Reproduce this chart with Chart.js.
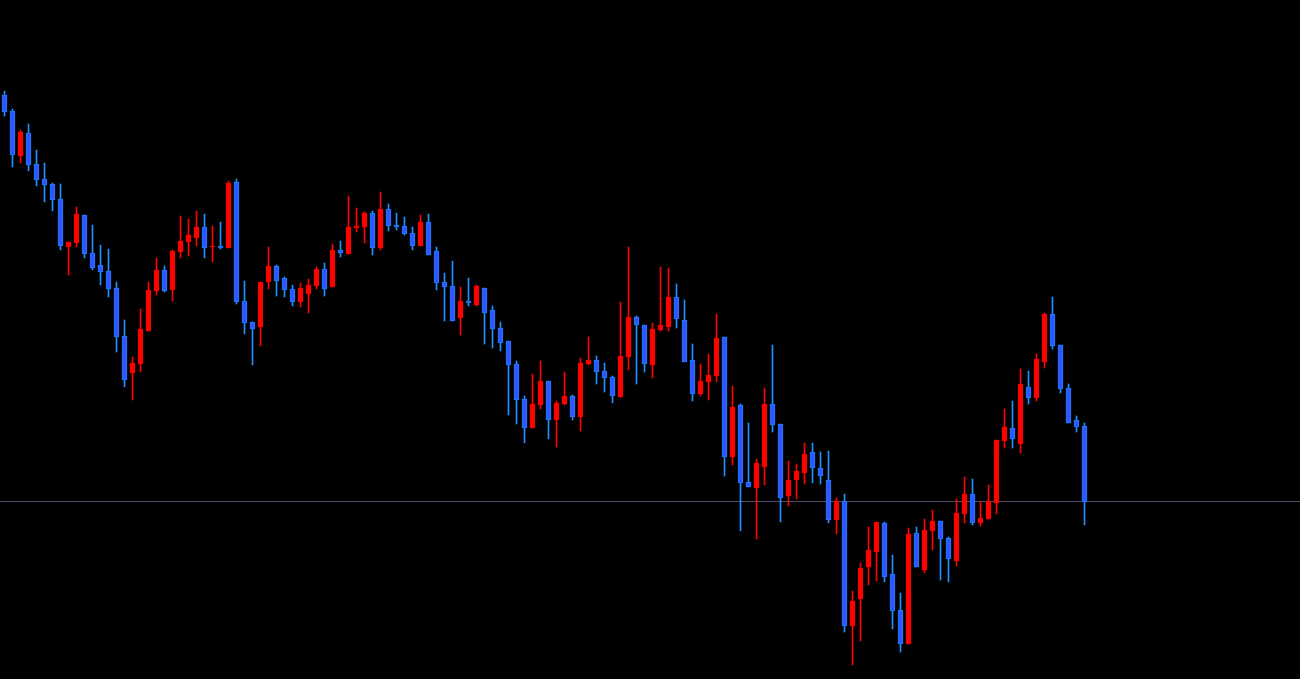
<!DOCTYPE html>
<html>
<head>
<meta charset="utf-8">
<script src="https://cdn.jsdelivr.net/npm/chart.js@4.4.1/dist/chart.umd.min.js"></script>
<style>
  html, body { margin: 0; padding: 0; background: #000; overflow: hidden; }
  #wrap { position: relative; width: 1300px; height: 679px; }
</style>
</head>
<body>
<div id="wrap"><canvas id="chart-candles"></canvas></div>
<script>
// OHLC (arbitrary price units)
const openV = [
  605, 589, 544, 567, 536, 521, 516, 501, 453, 457,
  485, 447, 435, 429, 412, 364, 327, 336, 369, 409,
  430, 410, 448, 458, 462, 473, 453, 454, 452, 518,
  399, 378, 373, 418, 434, 422, 411, 398, 406, 414,
  431, 413, 450, 446, 472, 473, 487, 452, 491, 475,
  474, 467, 454, 478, 449, 418, 414, 382, 399, 395,
  412, 390, 372, 359, 336, 301, 272, 295, 319, 280,
  296, 304, 283, 336, 340, 329, 323, 303, 343, 383,
  375, 335, 370, 373, 403, 380, 340, 306, 318, 324,
  363, 243, 295, 218, 212, 233, 296, 276, 204, 220,
  227, 248, 232, 220, 180, 199, 74, 101, 133, 148,
  177, 126, 90, 56, 167, 130, 169, 179, 162, 139,
  186, 206, 177, 181, 197, 259, 272, 256, 313, 302,
  338, 386, 355, 312, 280, 274,
];
const highV = [
  609, 591, 570, 576, 550, 537, 517, 516, 458, 493,
  485, 475, 455, 451, 418, 380, 343, 391, 418, 442,
  434, 450, 484, 481, 489, 486, 474, 478, 519, 521,
  419, 378, 418, 453, 435, 423, 415, 417, 421, 433,
  437, 456, 459, 504, 492, 488, 489, 508, 496, 487,
  483, 473, 485, 486, 453, 427, 439, 413, 422, 415,
  412, 394, 378, 359, 339, 304, 326, 339, 319, 299,
  328, 305, 342, 363, 344, 337, 324, 398, 453, 384,
  375, 377, 433, 432, 416, 400, 356, 336, 346, 386,
  363, 314, 296, 277, 241, 312, 355, 276, 239, 236,
  257, 257, 248, 249, 202, 206, 109, 137, 173, 178,
  178, 145, 107, 172, 173, 181, 190, 179, 163, 201,
  223, 221, 198, 215, 260, 291, 299, 331, 329, 346,
  387, 403, 355, 316, 284, 277,
];
const lowV = [
  584, 533, 537, 529, 514, 498, 489, 450, 425, 453,
  442, 430, 415, 403, 348, 313, 300, 328, 369, 405,
  408, 399, 442, 444, 454, 442, 438, 451, 452, 396,
  366, 335, 354, 411, 404, 403, 394, 393, 387, 411,
  404, 413, 443, 446, 468, 457, 445, 450, 469, 470,
  465, 450, 454, 445, 410, 379, 379, 365, 394, 394,
  356, 352, 349, 285, 276, 257, 272, 291, 261, 253,
  295, 280, 269, 335, 316, 308, 297, 303, 330, 316,
  328, 322, 369, 369, 372, 338, 299, 304, 300, 318,
  224, 235, 169, 213, 161, 215, 268, 178, 194, 201,
  216, 217, 216, 177, 166, 68, 35, 59, 115, 119,
  118, 71, 48, 56, 133, 127, 150, 120, 118, 134,
  177, 175, 174, 181, 186, 252, 252, 247, 296, 299,
  332, 351, 307, 277, 268, 175,
];
const closeV = [
  588, 545, 568, 535, 520, 515, 500, 454, 458, 486,
  446, 432, 428, 411, 363, 320, 337, 371, 410, 430,
  409, 449, 459, 465, 473, 452, 454, 452, 517, 398,
  377, 371, 418, 434, 419, 410, 398, 412, 415, 431,
  411, 450, 447, 473, 474, 487, 452, 491, 474, 473,
  466, 454, 478, 445, 417, 413, 379, 399, 397, 414,
  387, 371, 357, 335, 300, 272, 296, 319, 280, 297,
  304, 283, 337, 340, 328, 322, 304, 344, 383, 375,
  336, 371, 375, 403, 381, 338, 306, 319, 325, 362,
  243, 293, 217, 213, 237, 296, 275, 202, 220, 229,
  246, 232, 224, 180, 199, 74, 99, 132, 150, 178,
  123, 89, 56, 166, 133, 170, 179, 161, 141, 187,
  206, 177, 182, 199, 260, 273, 261, 316, 302, 341,
  386, 354, 311, 277, 273, 198,
];
// horizontal price line
const priceLine = 199;

const UP_COLOR = '#ff0000';
const DOWN_WICK = '#1e90ff';
const DOWN_FILL = '#2f55ff';
const DOWN_EDGE = '#1e7cff';

const isUp = openV.map((o, i) => closeV[i] > o);

const bodies = openV.map((o, i) => ({ x: i, y: [o, closeV[i]] }));
const wicks = lowV.map((l, i) => ({ x: i, y: [l, highV[i]] }));

const priceLinePlugin = {
  id: 'priceLine',
  beforeDraw(chart) {
    const { ctx, width, height } = chart;
    ctx.save();
    ctx.fillStyle = '#000';
    ctx.fillRect(0, 0, width, height);
    ctx.restore();
  },
  beforeDatasetsDraw(chart, _args, options) {
    const { ctx, chartArea, scales } = chart;
    const y = Math.round(scales.y.getPixelForValue(options.value)) + 0.5;
    ctx.save();
    ctx.strokeStyle = options.color;
    ctx.lineWidth = 1;
    ctx.beginPath();
    ctx.moveTo(chartArea.left, y);
    ctx.lineTo(chartArea.right, y);
    ctx.stroke();
    ctx.restore();
  },
};

new Chart(document.getElementById('chart-candles'), {
  type: 'bar',
  data: {
    datasets: [
      {
        label: 'body',
        data: bodies,
        order: 0,
        barThickness: 5,
        backgroundColor: isUp.map((u) => (u ? UP_COLOR : DOWN_FILL)),
        borderColor: isUp.map((u) => (u ? UP_COLOR : DOWN_EDGE)),
        borderWidth: 1,
        borderSkipped: false,
      },
      {
        label: 'wick',
        data: wicks,
        order: 1,
        barThickness: 1,
        backgroundColor: isUp.map((u) => (u ? UP_COLOR : DOWN_WICK)),
        borderWidth: 0,
      },
    ],
  },
  options: {
    responsive: true,
    maintainAspectRatio: false,
    animation: false,
    layout: { padding: 0 },
    datasets: { bar: { grouped: false } },
    plugins: {
      legend: { display: false },
      tooltip: { enabled: false },
      priceLine: { value: priceLine, color: '#50506a' },
    },
    scales: {
      x: { type: 'linear', display: false, offset: false, bounds: 'ticks', min: -0.5625, max: 161.9375 },
      y: { type: 'linear', display: false, min: 21, max: 700 },
    },
  },
  plugins: [priceLinePlugin],
});
</script>
</body>
</html>
